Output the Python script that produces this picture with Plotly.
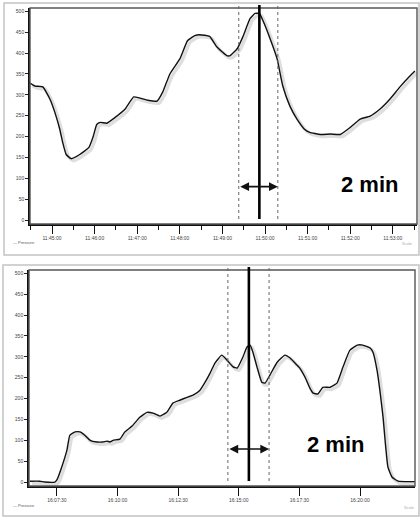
import plotly.graph_objects as go
import datetime as _dt

DAY = "2020-01-01 "

# ---------- top panel data ----------
top_times = ["11:44:29", "11:44:36", "11:44:47", "11:44:57", "11:45:04", "11:45:11", "11:45:15",
             "11:45:20", "11:45:27", "11:45:39", "11:45:52", "11:45:58", "11:46:03", "11:46:08",
             "11:46:17", "11:46:29", "11:46:43", "11:46:55", "11:47:04", "11:47:15", "11:47:28",
             "11:47:36", "11:47:46", "11:48:00", "11:48:11", "11:48:21", "11:48:28", "11:48:42",
             "11:48:52", "11:49:06", "11:49:11", "11:49:21", "11:49:29", "11:49:39", "11:49:46",
             "11:49:52", "11:49:57", "11:50:07", "11:50:17", "11:50:25", "11:50:35", "11:50:45",
             "11:50:56", "11:51:03", "11:51:18", "11:51:32", "11:51:46", "11:52:00", "11:52:14",
             "11:52:28", "11:52:42", "11:52:56", "11:53:10", "11:53:24", "11:53:31"]
top_values = [328, 321, 319, 290, 258, 217, 186,
              157, 147, 157, 174, 200, 229, 234,
              232, 246, 266, 295, 292, 287, 285,
              307, 350, 386, 430, 442, 444, 440,
              415, 394, 394, 411, 440, 483, 495,
              495, 478, 435, 386, 321, 273, 242,
              217, 210, 205, 206, 205, 222, 242,
              249, 266, 290, 319, 345, 357]
top_range = ["11:44:29", "11:53:34"]
top_tick0 = "11:45:00"
top_peak = "11:49:52"
top_window = ["11:49:23", "11:50:18"]

# ---------- bottom panel data ----------
bot_times = ["16:06:23", "16:06:48", "16:07:00", "16:07:25", "16:07:30", "16:07:42", "16:07:55",
             "16:08:02", "16:08:15", "16:08:27", "16:08:39", "16:08:52", "16:09:09", "16:09:24",
             "16:09:34", "16:09:41", "16:09:49", "16:10:06", "16:10:18", "16:10:36", "16:10:55",
             "16:11:13", "16:11:28", "16:11:45", "16:12:02", "16:12:17", "16:12:34", "16:12:52",
             "16:13:07", "16:13:24", "16:13:36", "16:13:49", "16:14:01", "16:14:18", "16:14:31",
             "16:14:46", "16:14:56", "16:15:10", "16:15:20", "16:15:28", "16:15:35", "16:15:45",
             "16:15:57", "16:16:05", "16:16:17", "16:16:35", "16:16:54", "16:17:07", "16:17:19",
             "16:17:31", "16:17:44", "16:17:56", "16:18:04", "16:18:16", "16:18:28", "16:18:46",
             "16:19:03", "16:19:18", "16:19:35", "16:19:53", "16:20:07", "16:20:25", "16:20:32",
             "16:20:42", "16:20:49", "16:20:57", "16:21:02", "16:21:09", "16:21:19", "16:21:34",
             "16:22:16"]
bot_values = [2, 2, 0, 0, 5, 36, 77,
              112, 120, 120, 112, 100, 96, 96,
              98, 96, 100, 103, 120, 134, 155,
              167, 165, 158, 167, 189, 196, 203,
              208, 220, 238, 261, 285, 304, 292,
              276, 273, 299, 323, 328, 311, 276,
              239, 237, 256, 287, 304, 297, 285,
              273, 251, 225, 213, 211, 227, 227,
              237, 276, 316, 328, 328, 321, 311,
              268, 220, 155, 100, 36, 12, 2,
              1]
bot_range = ["16:06:21", "16:22:16"]
bot_tick0 = "16:07:30"
bot_peak = "16:15:25"
bot_window = ["16:14:33", "16:16:15"]

y_ticks = [0, 50, 100, 150, 200, 250, 300, 350, 400, 450, 500]
series_name = "Pressure"
span_label = "2 min"


def d(t):
    return DAY + t


def shift(times, secs):
    out = []
    for t in times:
        dt = _dt.datetime.strptime(DAY + t, "%Y-%m-%d %H:%M:%S") + _dt.timedelta(seconds=secs)
        out.append(dt.strftime("%Y-%m-%d %H:%M:%S"))
    return out


fig = go.Figure()

line_main = dict(color="#111", width=1.4, shape="spline", smoothing=0.4)

fig.add_trace(go.Scatter(x=shift(top_times, 3), y=[v - 5 for v in top_values], mode="lines",
                         line=dict(color="rgba(0,0,0,0.13)", width=3.5, shape="spline", smoothing=0.4),
                         hoverinfo="skip", showlegend=False, xaxis="x", yaxis="y"))
fig.add_trace(go.Scatter(x=[d(t) for t in top_times], y=top_values, mode="lines",
                         line=line_main, name=series_name, showlegend=False, xaxis="x", yaxis="y"))
fig.add_trace(go.Scatter(x=shift(bot_times, 5), y=[v - 5 for v in bot_values], mode="lines",
                         line=dict(color="rgba(0,0,0,0.13)", width=3.5, shape="spline", smoothing=0.4),
                         hoverinfo="skip", showlegend=False, xaxis="x2", yaxis="y2"))
fig.add_trace(go.Scatter(x=[d(t) for t in bot_times], y=bot_values, mode="lines",
                         line=line_main, name=series_name, showlegend=False, xaxis="x2", yaxis="y2"))

W, H = 420, 523


def px(x):
    return x / W


def py(y):
    return 1 - y / H


tickfont = dict(family="Liberation Sans, Arial", size=5, color="#444")

common_y = dict(range=[-9.5, 508], tickvals=y_ticks, ticks="outside", ticklen=3,
                tickcolor="#222", showgrid=False, zeroline=False, showline=True,
                linecolor="#111", linewidth=1.6, tickfont=tickfont, fixedrange=True)

fig.update_layout(
    width=W, height=H, margin=dict(l=0, r=0, t=0, b=0),
    paper_bgcolor="white", plot_bgcolor="white", showlegend=False,
    xaxis=dict(domain=[px(30), px(417)], anchor="y", type="date",
               range=[d(top_range[0]), d(top_range[1])],
               tick0=d(top_tick0), dtick=60000, tickformat="%H:%M:%S",
               ticks="outside", ticklen=8, tickcolor="#111", tickwidth=1,
               minor=dict(dtick=30000, tick0=d(top_tick0), ticks="outside", ticklen=4,
                          tickcolor="#111", showgrid=False),
               showgrid=False, zeroline=False, showline=True, linecolor="#111",
               linewidth=1.6, tickfont=tickfont),
    yaxis=dict(domain=[py(224), py(8)], anchor="x", **common_y),
    xaxis2=dict(domain=[px(29), px(415)], anchor="y2", type="date",
                range=[d(bot_range[0]), d(bot_range[1])],
                tick0=d(bot_tick0), dtick=150000, tickformat="%H:%M:%S",
                ticks="outside", ticklen=8, tickcolor="#111", tickwidth=1,
                showgrid=False, zeroline=False, showline=True, linecolor="#111",
                linewidth=1.6, tickfont=tickfont),
    yaxis2=dict(domain=[py(486), py(270)], anchor="x2", **common_y),
)

shapes = []
for (x0, y0, x1, y1) in [(4, 3, 419, 255), (3, 265, 419, 516)]:
    shapes.append(dict(type="rect", xref="paper", yref="paper",
                       x0=px(x0), x1=px(x1), y0=py(y1), y1=py(y0),
                       line=dict(color="#c4c4c4", width=1.5), layer="below"))
shapes.append(dict(type="rect", xref="x domain", yref="y domain", x0=0, x1=1, y0=0, y1=1,
                   line=dict(color="#555", width=1.4)))
shapes.append(dict(type="rect", xref="x2 domain", yref="y2 domain", x0=0, x1=1, y0=0, y1=1,
                   line=dict(color="#555", width=1.4)))

for xa, peak, win, yb, yt in [("x", top_peak, top_window, 219, 5),
                              ("x2", bot_peak, bot_window, 481, 267)]:
    shapes.append(dict(type="line", xref=xa, yref="paper", x0=d(peak), x1=d(peak),
                       y0=py(yb), y1=py(yt), line=dict(color="#000", width=2.6)))
    for w in win:
        shapes.append(dict(type="line", xref=xa, yref="paper", x0=d(w), x1=d(w),
                           y0=py(yb), y1=py(yt), line=dict(color="#666", width=1, dash="dot")))
fig.update_layout(shapes=shapes)

ann = []
for xa, ya, win, yv in [("x", "y", top_window, 80), ("x2", "y2", bot_window, 79)]:
    ann.append(dict(x=d(win[1]), y=yv, ax=d(win[0]), ay=yv, xref=xa, yref=ya,
                    axref=xa, ayref=ya, text="", showarrow=True, arrowhead=2,
                    arrowside="end+start", arrowsize=1.1, arrowwidth=1.6,
                    arrowcolor="#111"))
ann.append(dict(x=px(369), y=py(184), xref="paper", yref="paper", text="<b>%s</b>" % span_label,
                showarrow=False, font=dict(family="Liberation Sans, Arial", size=22, color="#000"),
                xanchor="center", yanchor="middle"))
ann.append(dict(x=px(335), y=py(444), xref="paper", yref="paper", text="<b>%s</b>" % span_label,
                showarrow=False, font=dict(family="Liberation Sans, Arial", size=22, color="#000"),
                xanchor="center", yanchor="middle"))
for yy in [242, 505]:
    ann.append(dict(x=px(11), y=py(yy), xref="paper", yref="paper",
                    text="— " + series_name, showarrow=False, xanchor="left", yanchor="middle",
                    font=dict(family="Liberation Sans, Arial", size=4, color="#555")))
for xx, yy in [(415, 243), (417, 507)]:
    ann.append(dict(x=px(xx), y=py(yy), xref="paper", yref="paper", text="Scale",
                    showarrow=False, xanchor="right", yanchor="middle",
                    font=dict(family="Liberation Sans, Arial", size=4, color="#aaa")))
fig.update_layout(annotations=ann)

fig.write_html("out.html")
